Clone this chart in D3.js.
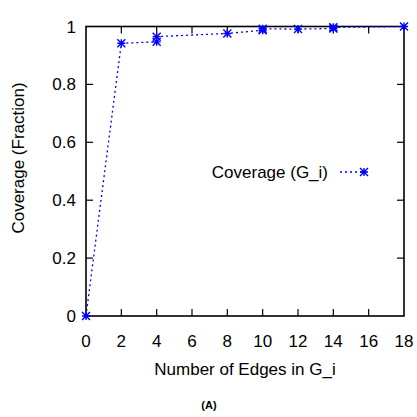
<!DOCTYPE html>
<html>
<head>
<meta charset="utf-8">
<script src="https://cdn.jsdelivr.net/npm/d3@7"></script>
<style>
  body { margin: 0; background: #fff; }
  text { font-family: "Liberation Sans", Arial, sans-serif; fill: #000; }
</style>
</head>
<body>
<div id="chart"></div>
<script>
// coverage data
var edges    = [0, 2, 4, 4, 8, 10, 10, 12, 14, 14, 18];
var coverage = [0, 0.942, 0.947, 0.965, 0.976, 0.987, 0.992, 0.991, 0.993, 0.997, 1.0];
var xTicks = [0, 2, 4, 6, 8, 10, 12, 14, 16, 18];
var yTicks = [0, 0.2, 0.4, 0.6, 0.8, 1];

var W = 417, H = 417;
var plot = {left: 86, right: 404, top: 26.5, bottom: 316};

var svg = d3.select("#chart").append("svg")
  .attr("width", W).attr("height", H);

var x = d3.scaleLinear().domain([0, 18]).range([plot.left, plot.right]);
var y = d3.scaleLinear().domain([0, 1]).range([plot.bottom, plot.top]);

// inward ticks on all four sides
var tickLen = 7;
var g = svg.append("g").attr("stroke", "#000").attr("stroke-width", 1.2);
xTicks.slice(1, -1).forEach(function(t) {
  g.append("line").attr("x1", x(t)).attr("x2", x(t)).attr("y1", plot.bottom).attr("y2", plot.bottom - tickLen);
  g.append("line").attr("x1", x(t)).attr("x2", x(t)).attr("y1", plot.top).attr("y2", plot.top + tickLen);
});
yTicks.slice(1, -1).forEach(function(t) {
  g.append("line").attr("x1", plot.left).attr("x2", plot.left + tickLen).attr("y1", y(t)).attr("y2", y(t));
  g.append("line").attr("x1", plot.right).attr("x2", plot.right - tickLen).attr("y1", y(t)).attr("y2", y(t));
});

// frame
svg.append("rect")
  .attr("x", plot.left).attr("y", plot.top)
  .attr("width", plot.right - plot.left).attr("height", plot.bottom - plot.top)
  .attr("fill", "none").attr("stroke", "#000").attr("stroke-width", 1.6);

// tick labels
svg.append("g").selectAll("text").data(xTicks).enter().append("text")
  .attr("x", function(d) { return x(d); })
  .attr("y", 347)
  .attr("text-anchor", "middle")
  .style("font-size", "17px")
  .text(function(d) { return d; });

svg.append("g").selectAll("text").data(yTicks).enter().append("text")
  .attr("x", 76)
  .attr("y", function(d) { return y(d) + 6; })
  .attr("text-anchor", "end")
  .style("font-size", "17px")
  .text(function(d) { return d; });

// axis titles
svg.append("text")
  .attr("x", 245).attr("y", 375)
  .attr("text-anchor", "middle")
  .style("font-size", "17px")
  .text("Number of Edges in G_i");

svg.append("text")
  .attr("transform", "translate(24," + 158 + ") rotate(-90)")
  .attr("text-anchor", "middle")
  .style("font-size", "17px")
  .text("Coverage (Fraction)");

svg.append("text")
  .attr("x", 209).attr("y", 409)
  .attr("text-anchor", "middle")
  .style("font-size", "11px")
  .style("font-weight", "bold")
  .text("(A)");

// series
var pts = edges.map(function(e, i) { return [e, coverage[i]]; });
var line = d3.line().x(function(d) { return x(d[0]); }).y(function(d) { return y(d[1]); });

svg.append("path")
  .datum(pts)
  .attr("d", line)
  .attr("fill", "none")
  .attr("stroke", "#0000ff")
  .attr("stroke-width", 1.3)
  .attr("stroke-dasharray", "2,3");

function star(sel, cx, cy) {
  var r = 4;
  var p = "M" + (cx - r) + "," + cy + "H" + (cx + r) +
          "M" + cx + "," + (cy - r) + "V" + (cy + r) +
          "M" + (cx - r) + "," + (cy - r) + "L" + (cx + r) + "," + (cy + r) +
          "M" + (cx - r) + "," + (cy + r) + "L" + (cx + r) + "," + (cy - r);
  sel.append("path").attr("d", p)
    .attr("stroke", "#0000ff").attr("stroke-width", 1.4).attr("fill", "none");
}

var marks = svg.append("g");
pts.forEach(function(d) { star(marks, x(d[0]), y(d[1])); });

// legend
svg.append("text")
  .attr("x", 328).attr("y", 178)
  .attr("text-anchor", "end")
  .style("font-size", "17px")
  .text("Coverage (G_i)");
svg.append("line")
  .attr("x1", 340).attr("x2", 365).attr("y1", 172).attr("y2", 172)
  .attr("stroke", "#0000ff").attr("stroke-width", 1.3)
  .attr("stroke-dasharray", "2,3");
star(svg, 364, 172);
</script>
</body>
</html>
